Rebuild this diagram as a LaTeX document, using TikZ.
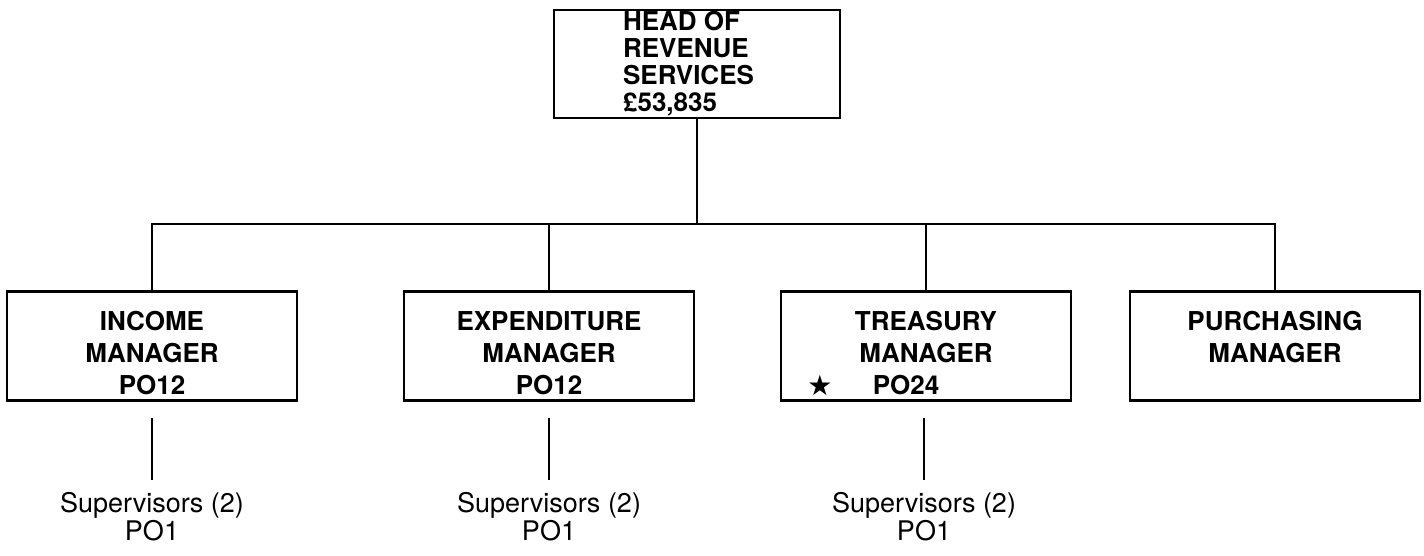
\documentclass[tikz,border=0pt]{standalone}
\usepackage{fontspec}
\setmainfont{TeX Gyre Heros}
\newfontfamily\symfont{DejaVu Sans}
\usetikzlibrary{positioning, calc}
\newcommand{\lift}{\rule{0pt}{16.5pt}}
\tikzset{
    post/.style = {rectangle, draw, line width=1.2pt, minimum width=145pt, minimum height=54.5pt, align=center, inner sep=0pt, font=\fontsize{13}{16}\selectfont\bfseries},
    headpost/.style = {rectangle, draw, line width=1.2pt, minimum width=143pt, minimum height=54pt, align=left, inner sep=0pt, font=\fontsize{13}{13.5}\selectfont\bfseries},
    staff/.style = {align=center, inner sep=0pt, anchor=north, font=\fontsize{13.5}{11.5}\selectfont},
    link/.style = {line width=1pt}
}

\begin{document}
\begin{tikzpicture}[x=0.5pt, y=-0.5pt]
  \useasboundingbox (0,0) rectangle (1424,556);

  % head of section
  \node[headpost] (head) at (697,64) {HEAD OF\\REVENUE\\SERVICES\kern8.5pt\\£53,835};

  % managers
  \node[post] (income) at (152,346) {\lift INCOME\\MANAGER\\PO12};
  \node[post] (expend) at (549,346) {\lift EXPENDITURE\\MANAGER\\PO12};
  \node[post] (treasury) at (926,346) {\lift TREASURY\\MANAGER\\\hspace*{-20pt}PO24};
  \node[post] (purch) at (1275,346) {\lift PURCHASING\\MANAGER\\\phantom{PO12}};
  \node[font=\symfont\fontsize{14}{14}\selectfont, inner sep=0pt] (star) at (820,385) {★};

  % supervisors
  \node[staff] (sup1) at (152,492) {Supervisors (2)\\PO1};
  \node[staff] (sup2) at (549,492) {Supervisors (2)\\PO1};
  \node[staff] (sup3) at (924,492) {Supervisors (2)\\PO1};

  % connectors
  \coordinate (bus) at (697,224);
  \draw[link] (head.south) -- (bus);
  \draw[link] (income.north) |- (bus) -| (purch.north);
  \draw[link] (expend.north) -- (expend.north |- bus);
  \draw[link] (treasury.north) -- (treasury.north |- bus);
  \draw[link] ([yshift=-8pt]income.south) -- ([yshift=6pt]sup1.north);
  \draw[link] ([yshift=-8pt]expend.south) -- ([yshift=6pt]sup2.north);
  \draw[link] ([yshift=-8pt]treasury.south -| sup3.north) -- ([yshift=6pt]sup3.north);
\end{tikzpicture}
\end{document}
